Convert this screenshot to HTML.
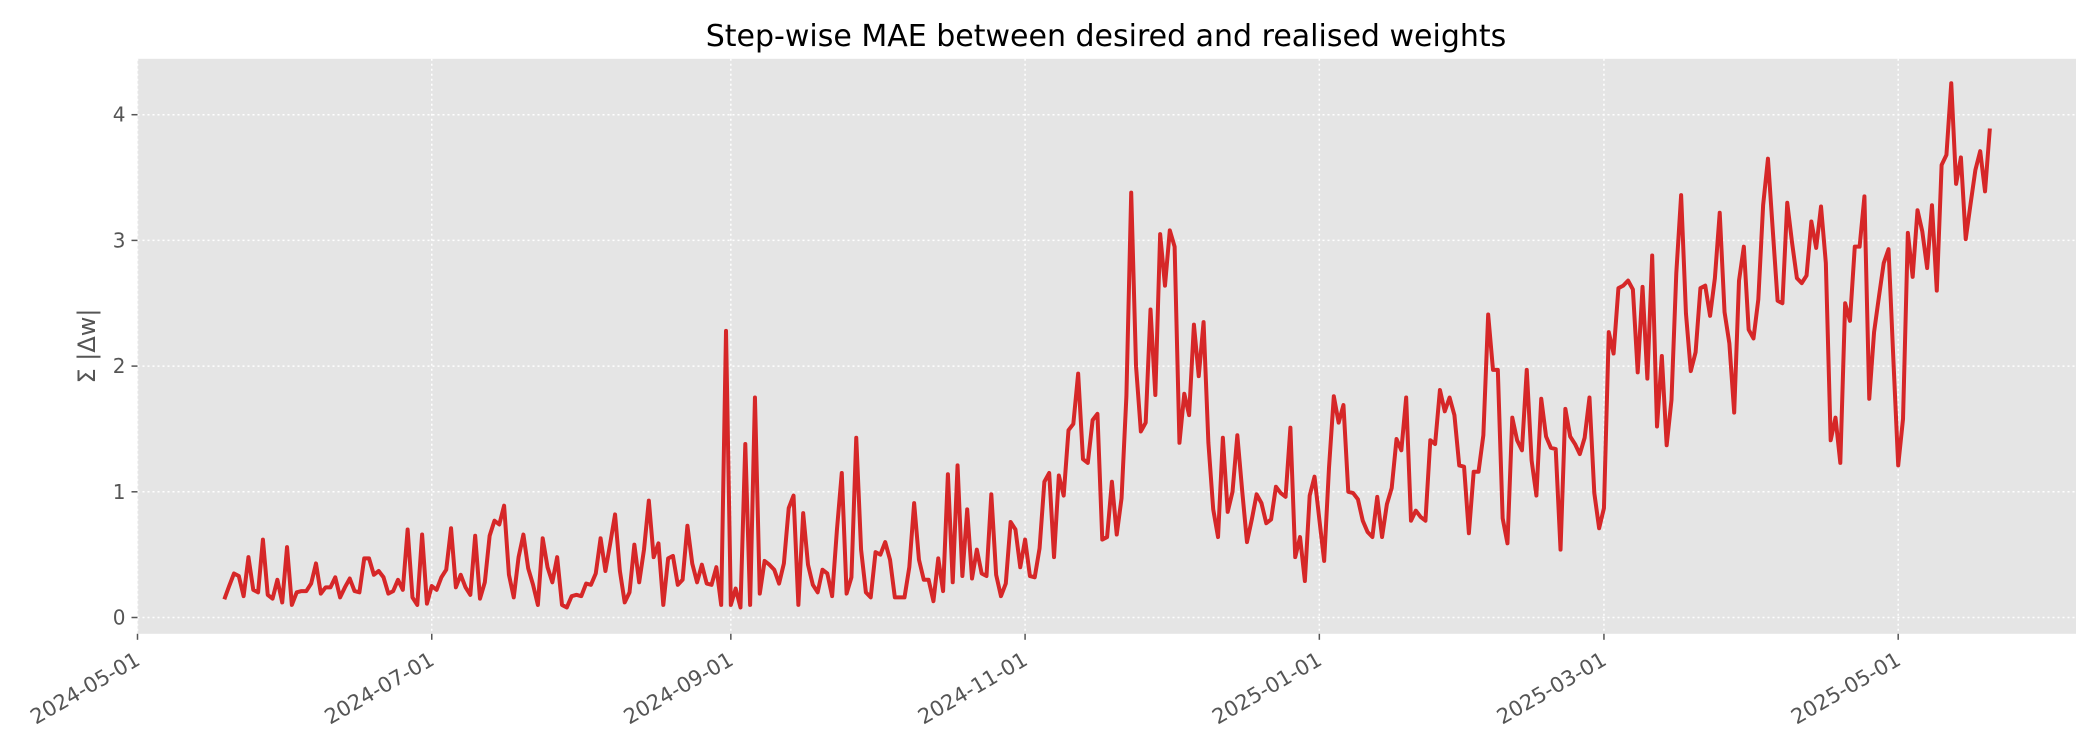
<!DOCTYPE html>
<html><head><meta charset="utf-8"><style>
html,body{margin:0;padding:0;background:#fff;}
svg{display:block;font-family:"DejaVu Sans","Liberation Sans",sans-serif;}
</style></head><body>
<svg id="chart" width="2100" height="750" viewBox="0 0 2100 750" xmlns="http://www.w3.org/2000/svg">
<rect x="0" y="0" width="2100" height="750" fill="#ffffff"/>
<rect x="137.5" y="58.8" width="1938.5" height="575" fill="#E5E5E5"/>
<g id="grid"></g><g id="axes"></g><g id="series"></g>
<text x="1106" y="46" text-anchor="middle" font-size="30" fill="#000">Step-wise MAE between desired and realised weights</text>
<text x="0" y="0" text-anchor="middle" font-size="24" fill="#555" transform="translate(95 346) rotate(-90)">Σ |Δw|</text>
</svg>
<script>
const startDate = "2024-05-19";
const values = [0.145,0.25,0.35,0.33,0.17,0.48,0.22,0.20,0.62,0.18,0.15,0.30,0.12,0.56,0.10,0.20,0.21,0.21,0.27,0.43,
0.19,0.24,0.24,0.32,0.16,0.24,0.31,0.21,0.20,0.47,0.47,0.34,0.37,0.32,0.19,0.21,0.30,0.22,0.70,0.16,
0.10,0.66,0.11,0.25,0.22,0.32,0.38,0.71,0.24,0.34,0.24,0.18,0.65,0.15,0.28,0.65,0.77,0.74,0.89,0.34,
0.16,0.48,0.66,0.39,0.26,0.10,0.63,0.40,0.28,0.48,0.10,0.08,0.17,0.18,0.17,0.27,0.26,0.35,0.63,0.37,
0.59,0.82,0.37,0.12,0.20,0.58,0.28,0.54,0.93,0.48,0.59,0.10,0.47,0.49,0.26,0.30,0.73,0.43,0.28,0.42,
0.27,0.26,0.40,0.10,2.28,0.10,0.23,0.08,1.38,0.10,1.75,0.19,0.45,0.42,0.38,0.27,0.43,0.87,0.97,0.10,
0.83,0.42,0.26,0.20,0.38,0.35,0.17,0.70,1.15,0.19,0.32,1.43,0.54,0.20,0.16,0.52,0.50,0.60,0.46,0.16,
0.16,0.16,0.40,0.91,0.46,0.30,0.30,0.13,0.47,0.21,1.14,0.28,1.21,0.33,0.86,0.31,0.54,0.35,0.33,0.98,
0.34,0.17,0.27,0.76,0.70,0.40,0.62,0.33,0.32,0.55,1.08,1.15,0.48,1.13,0.97,1.49,1.54,1.94,1.26,1.23,
1.57,1.62,0.62,0.64,1.08,0.66,0.95,1.76,3.38,2.00,1.48,1.55,2.45,1.77,3.05,2.64,3.08,2.95,1.39,1.78,
1.61,2.33,1.92,2.35,1.39,0.86,0.64,1.43,0.84,1.00,1.45,1.01,0.60,0.78,0.98,0.91,0.75,0.78,1.04,0.99,
0.96,1.51,0.48,0.64,0.29,0.97,1.12,0.78,0.45,1.19,1.76,1.55,1.69,1.00,0.99,0.94,0.77,0.68,0.64,0.96,
0.64,0.90,1.03,1.42,1.33,1.75,0.77,0.85,0.80,0.77,1.41,1.38,1.81,1.64,1.75,1.61,1.21,1.20,0.67,1.16,
1.16,1.45,2.41,1.97,1.97,0.79,0.59,1.59,1.41,1.33,1.97,1.25,0.97,1.74,1.44,1.35,1.34,0.54,1.66,1.44,
1.38,1.30,1.43,1.75,0.99,0.71,0.87,2.27,2.10,2.62,2.64,2.68,2.61,1.95,2.63,1.90,2.88,1.52,2.08,1.37,
1.73,2.74,3.36,2.42,1.96,2.11,2.62,2.64,2.40,2.70,3.22,2.43,2.18,1.63,2.68,2.95,2.29,2.22,2.53,3.28,
3.65,3.08,2.52,2.50,3.30,2.98,2.70,2.66,2.72,3.15,2.94,3.27,2.82,1.41,1.59,1.23,2.50,2.36,2.95,2.95,
3.35,1.74,2.27,2.55,2.82,2.93,2.05,1.21,1.58,3.06,2.71,3.24,3.07,2.78,3.28,2.60,3.60,3.68,4.25,3.45,
3.66,3.01,3.29,3.56,3.71,3.39,3.89];
const xTickLabels = ["2024-05-01","2024-07-01","2024-09-01","2024-11-01","2025-01-01","2025-03-01","2025-05-01"];
const yTickValues = [0,1,2,3,4];

const NS = "http://www.w3.org/2000/svg";
const L = 137.5, R = 2076, T = 58.8, B = 633.8;
const dayMs = 86400000;
const origin = Date.UTC(2024,4,1);
function dayOf(s){const p=s.split("-");return (Date.UTC(+p[0],+p[1]-1,+p[2])-origin)/dayMs;}
function xScale(d){return L + d*(1898.2-137.5)/365;}
function yScale(v){return 617.5 - v*125.7;}
function mk(tag,attrs,parent){const e=document.createElementNS(NS,tag);for(const k in attrs)e.setAttribute(k,attrs[k]);parent.appendChild(e);return e;}
const grid=document.getElementById("grid"), axes=document.getElementById("axes"), series=document.getElementById("series");

yTickValues.forEach(v=>{
  const y=yScale(v);
  const g=mk("line",{x1:L,x2:R,y1:y,y2:y,stroke:"#ffffff","stroke-width":1.5,"stroke-dasharray":"2,3"},grid);
  
  
  const t=mk("line",{x1:L-6,x2:L,y1:y,y2:y,stroke:"#555","stroke-width":1.5},axes);
  
  
  const lb=mk("text",{x:L-12,y:y+7,"text-anchor":"end","font-size":20,fill:"#555"},axes);
  lb.textContent=String(v);
  
  
});
xTickLabels.forEach(s=>{
  const x=xScale(dayOf(s));
  const g=mk("line",{x1:x,x2:x,y1:T,y2:B,stroke:"#ffffff","stroke-width":1.5,"stroke-dasharray":"2,3"},grid);
  
  
  const t=mk("line",{x1:x,x2:x,y1:B,y2:B+6,stroke:"#555","stroke-width":1.5},axes);
  
  
  const tx=x+4, ty=B+30;
  const lb=mk("text",{x:tx,y:ty,"text-anchor":"end","font-size":21,fill:"#555",transform:"rotate(-30 "+tx+" "+ty+")"},axes);
  lb.textContent=s;
  
  
});
const d0=dayOf(startDate);
const pts=values.map((v,i)=>xScale(d0+i).toFixed(2)+","+yScale(v).toFixed(2)).join(" ");
const line=mk("polyline",{points:pts,fill:"none",stroke:"#d62728","stroke-width":4,"stroke-linejoin":"round","stroke-linecap":"butt"},series);


</script>
</body></html>
